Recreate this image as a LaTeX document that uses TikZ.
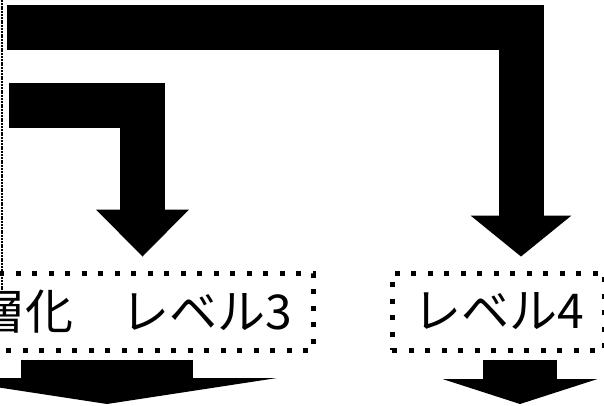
\documentclass[tikz,border=0pt]{standalone}
\usepackage{fontspec}
\setmainfont{Noto Sans CJK JP}
\usetikzlibrary{arrows.meta,positioning}

\begin{document}
\begin{tikzpicture}[x=1pt, y=-1pt]
	\tikzstyle{levelbox}=[rectangle, draw=black, line width=5pt, dash pattern=on 5pt off 11.5pt, inner xsep=21pt, inner ysep=0pt, minimum height=77pt, font=\fontsize{48pt}{48pt}\selectfont]
	\tikzstyle{feedarrow}=[draw=black, line width=45pt, line join=miter, shorten >=14pt]
	\tikzstyle{exitarrow}=[draw=black, shorten <=7pt]
	\useasboundingbox (0,0) rectangle (604,405);
	\clip (0,0) rectangle (604,405);
	% edge of the box on the far left
	\draw[line width=1.5pt, dash pattern=on 2pt off 0.8pt] (2,0) -- (2,292);
	\node[levelbox] (lvthree) at (135,311.5) {層化　レベル3};
	\node[levelbox] (lvfour) [right=74pt of lvthree] {レベル4};
	\coordinate (feedA) at (9,105);
	\coordinate (feedB) at (7,27.5);
	\coordinate (dropA) at (142.5,0);
	\coordinate (dropB) at (521,0);
	\coordinate (outA) at (107,404);
	\coordinate (outB) at (520,404);
	\draw[feedarrow, -{Triangle[width=93pt, length=47pt, line width=0pt]}] (feedA) -| (lvthree.north -| dropA);
	\draw[feedarrow, -{Triangle[width=101pt, length=41pt, line width=0pt]}] (feedB) -| (lvfour.north -| dropB);
	\draw[exitarrow, line width=172pt, -{Triangle[width=340pt, length=26pt, line width=0pt]}] (lvthree.south -| outA) -- (outA);
	\draw[exitarrow, line width=74pt, -{Triangle[width=155pt, length=25pt, line width=0pt]}] (lvfour.south -| outB) -- (outB);
\end{tikzpicture}
\end{document}
